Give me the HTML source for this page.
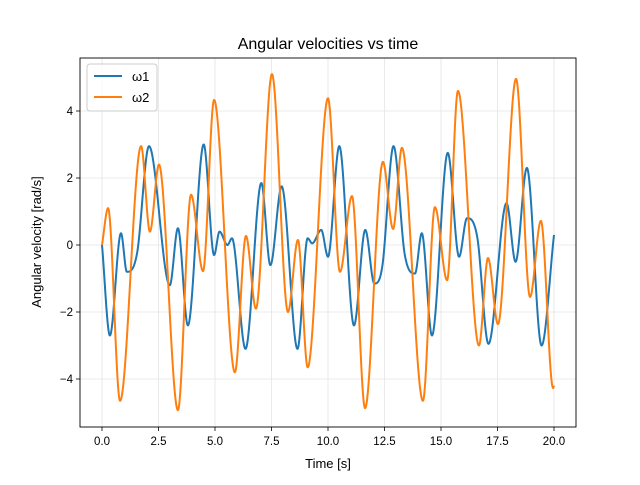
<!DOCTYPE html>
<html><head><meta charset="utf-8"><style>
body{margin:0;background:#fff}
svg{font-family:"Liberation Sans","DejaVu Sans",sans-serif}
</style></head><body>
<svg id="chart" width="640" height="480" viewBox="0 0 640 480">
<rect width="640" height="480" fill="#fff"/>
<text x="328" y="49" font-size="16" text-anchor="middle" fill="#000">Angular velocities vs time</text>
<g id="grid"></g><g id="series"></g><g id="ticks"></g>
<rect x="80" y="58" width="496" height="369" fill="none" stroke="#000" stroke-width="0.9"/>
<text x="328" y="468" font-size="13" text-anchor="middle">Time [s]</text>
<text transform="translate(41,242) rotate(-90)" font-size="13" text-anchor="middle">Angular velocity [rad/s]</text>
<g>
<rect x="87" y="64" width="70" height="47" rx="3" fill="#fff" fill-opacity="0.8" stroke="#ccc"/>
<line x1="94" y1="76" x2="122" y2="76" stroke="#1f77b4" stroke-width="2"/>
<text x="132" y="81" font-size="13">ω1</text>
<line x1="94" y1="97" x2="122" y2="97" stroke="#ff7f0e" stroke-width="2"/>
<text x="132" y="102" font-size="13">ω2</text>
</g>
</svg>
<script>
const xTicks=[0,2.5,5,7.5,10,12.5,15,17.5,20];
const xTickLabels=["0.0","2.5","5.0","7.5","10.0","12.5","15.0","17.5","20.0"];
const yTicks=[-4,-2,0,2,4];
const yTickLabels=["−4","−2","0","2","4"];
const w1T=[0,0.35,0.84,1.1,1.55,2.08,3.0,3.36,3.8,4.5,4.96,5.2,5.55,5.75,6.35,7.05,7.45,7.95,8.65,9.1,9.3,9.7,10.0,10.5,11.15,11.65,12.05,12.4,12.9,13.4,13.85,14.15,14.6,15.3,15.8,16.15,16.6,17.1,17.9,18.3,18.8,19.45,20];
const w1V=[0,-2.7,0.35,-0.8,-0.25,2.95,-1.2,0.5,-2.4,3.0,-0.3,0.4,0.0,0.2,-3.1,1.85,-0.6,1.75,-3.1,0.2,0.05,0.45,-0.35,2.95,-2.4,0.45,-1.15,-0.65,2.95,-0.3,-0.85,0.35,-2.7,2.75,-0.35,0.8,0.25,-2.95,1.25,-0.5,2.3,-3.0,0.3];
const w2T=[0,0.27,0.8,1.73,2.12,2.52,3.36,3.94,4.47,4.96,5.88,6.37,6.81,7.52,8.23,8.67,9.1,10.0,10.53,11.06,11.64,12.43,12.88,13.27,14.2,14.73,15.27,15.75,16.68,17.08,17.52,18.32,18.94,19.42,19.96,20];
const w2V=[0,1.1,-4.65,2.95,0.4,2.4,-4.93,1.5,-0.78,4.33,-3.8,0.27,-1.9,5.1,-2.0,0.15,-3.65,4.38,-0.8,1.46,-4.87,2.48,0.48,2.9,-4.65,1.13,-1.05,4.6,-3.0,-0.39,-2.36,4.96,-1.55,0.72,-4.27,-4.2];
const NS="http://www.w3.org/2000/svg";
const X=t=>102+t*22.6, Y=v=>245-v*33.5;
const grid=document.getElementById('grid'),ticks=document.getElementById('ticks'),ser=document.getElementById('series');
function mk(tag,at,par){const e=document.createElementNS(NS,tag);for(const k in at)e.setAttribute(k,at[k]);par.appendChild(e);return e;}
xTicks.forEach((t,i)=>{
 const g=mk('line',{x1:X(t),x2:X(t),y1:58,y2:427,stroke:'#e5e5e5','stroke-width':0.8},grid);
 
 
 mk('line',{x1:X(t),x2:X(t),y1:427,y2:431,stroke:'#000','stroke-width':0.8},ticks);
 const l=mk('text',{x:X(t),y:445,'font-size':11.5,'text-anchor':'middle'},ticks);l.textContent=xTickLabels[i];
 
 
});
yTicks.forEach((v,i)=>{
 const g=mk('line',{x1:80,x2:576,y1:Y(v),y2:Y(v),stroke:'#e5e5e5','stroke-width':0.8},grid);
 
 
 mk('line',{x1:76,x2:80,y1:Y(v),y2:Y(v),stroke:'#000','stroke-width':0.8},ticks);
 const l=mk('text',{x:73,y:Y(v)+4,'font-size':11.5,'text-anchor':'end'},ticks);l.textContent=yTickLabels[i];
 
 
});
function mono(xs,ys){const n=xs.length,d=[],m=[];
 for(let i=0;i<n-1;i++)d.push((ys[i+1]-ys[i])/(xs[i+1]-xs[i]));
 m[0]=d[0];m[n-1]=d[n-2];
 for(let i=1;i<n-1;i++)m[i]=(d[i-1]*d[i]<=0)?0:(d[i-1]+d[i])/2;
 for(let i=0;i<n-1;i++){if(d[i]===0){m[i]=m[i+1]=0;continue;}const a=m[i]/d[i],b=m[i+1]/d[i],s=a*a+b*b;if(s>9){const t=3/Math.sqrt(s);m[i]=t*a*d[i];m[i+1]=t*b*d[i];}}
 return t=>{let i=0;while(i<n-2&&t>xs[i+1])i++;const h=xs[i+1]-xs[i],s=(t-xs[i])/h,s2=s*s,s3=s2*s;
  return (2*s3-3*s2+1)*ys[i]+(s3-2*s2+s)*h*m[i]+(-2*s3+3*s2)*ys[i+1]+(s3-s2)*h*m[i+1];};}
function draw(ts,vs,col,name){const f=mono(ts,vs);let p='';
 for(let k=0;k<=2000;k++){const t=ts[0]+(ts[ts.length-1]-ts[0])*k/2000;p+=(k?'L':'M')+X(t).toFixed(2)+','+Y(f(t)).toFixed(2);}
 const e=mk('path',{d:p,fill:'none',stroke:col,'stroke-width':2,'stroke-linejoin':'round'},ser);
 
 }
draw(w1T,w1V,'#1f77b4','omega1-line');
draw(w2T,w2V,'#ff7f0e','omega2-line');
</script>
</body></html>
